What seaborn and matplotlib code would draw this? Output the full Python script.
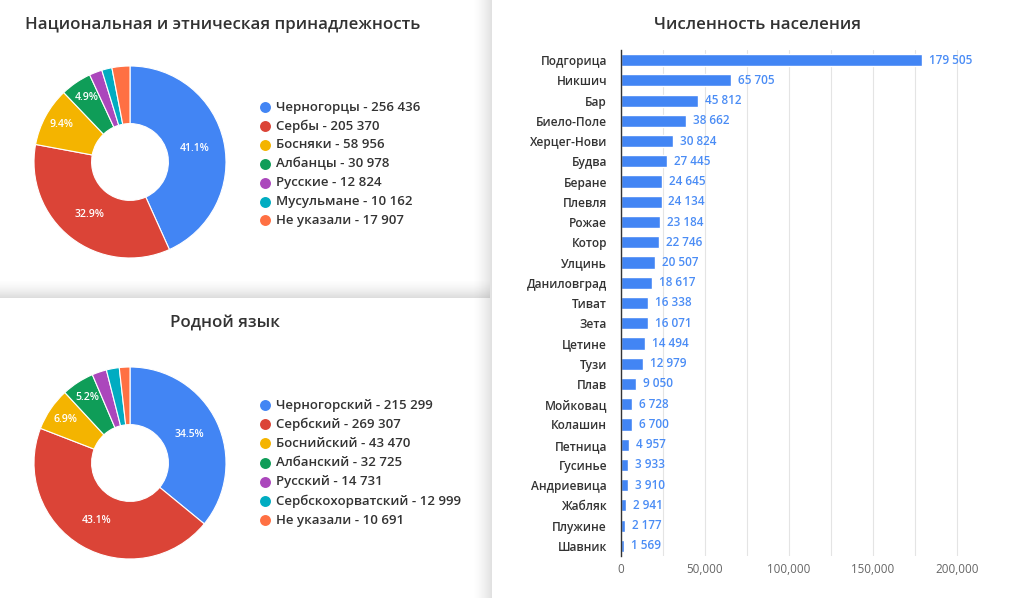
import numpy as np
import matplotlib
matplotlib.use("Agg")
import matplotlib.pyplot as plt
import seaborn as sns
from matplotlib.ticker import MultipleLocator, FuncFormatter

# ---------------- data ----------------
eth_names = ["Черногорцы", "Сербы", "Босняки", "Албанцы", "Русские", "Мусульмане", "Не указали"]
eth_values = [256436, 205370, 58956, 30978, 12824, 10162, 17907]
eth_pct_labels = ["41.1%", "32.9%", "9.4%", "4.9%", "", "", ""]

lang_names = ["Черногорский", "Сербский", "Боснийский", "Албанский", "Русский",
              "Сербскохорватский", "Не указали"]
lang_values = [215299, 269307, 43470, 32725, 14731, 12999, 10691]
lang_pct_labels = ["34.5%", "43.1%", "6.9%", "5.2%", "", "", ""]

cities = ["Подгорица", "Никшич", "Бар", "Биело-Поле", "Херцег-Нови", "Будва", "Беране",
          "Плевля", "Рожае", "Котор", "Улцинь", "Даниловград", "Тиват", "Зета", "Цетине",
          "Тузи", "Плав", "Мойковац", "Колашин", "Петница", "Гусинье", "Андриевица",
          "Жабляк", "Плужине", "Шавник"]
population = [179505, 65705, 45812, 38662, 30824, 27445, 24645, 24134, 23184, 22746, 20507,
              18617, 16338, 16071, 14494, 12979, 9050, 6728, 6700, 4957, 3933, 3910, 2941,
              2177, 1569]

title_eth = "Национальная и этническая принадлежность"
title_lang = "Родной язык"
title_pop = "Численность населения"

slice_colors = ["#4285F4", "#DB4437", "#F4B400", "#0F9D58", "#AB47BC", "#00ACC1", "#FF7043"]
bar_color = "#4285F4"
label_blue = "#4A8CF5"
text_color = "#333333"

# ---------------- style ----------------
sns.set_theme(style="white")
plt.rcParams["font.family"] = ["Open Sans", "DejaVu Sans"]

W, H = 1024, 598
fig = plt.figure(figsize=(W / 100, H / 100), dpi=100)
fig.patch.set_facecolor("white")


def px_axes(x0, y0, x1, y1, z=2):
    ax = fig.add_axes([x0 / W, 1 - y1 / H, (x1 - x0) / W, (y1 - y0) / H])
    ax.set_zorder(z)
    ax.patch.set_alpha(0)
    return ax


def fmt_space(v):
    return f"{v:,}".replace(",", " ")


# background / overlay axes in pixel coordinates
bg = fig.add_axes([0, 0, 1, 1])
bg.set_zorder(0)
bg.axis("off")

# card shadows
n = 60
ramp = np.linspace(0, 1, n) ** 1.6
vimg = np.zeros((1, n, 4))
vimg[..., :3] = 0.45
vimg[0, :, 3] = 0.22 * ramp
bg.imshow(vimg, extent=[472, 492, H, 0], aspect="auto", interpolation="bilinear")
himg = np.zeros((n, 1, 4))
himg[..., :3] = 0.45
himg[:, 0, 3] = 0.25 * ramp
bg.imshow(himg, extent=[0, 490, 298, 279], aspect="auto", interpolation="bilinear")
bg.set_xlim(0, W)
bg.set_ylim(H, 0)


def donut(cx, cy, values, pct_labels):
    R = 96
    ax = px_axes(cx - R - 4, cy - R - 4, cx + R + 4, cy + R + 4, z=2)
    wedges, _ = ax.pie(values, colors=slice_colors, startangle=90, counterclock=False,
                       radius=R, wedgeprops=dict(width=R * 0.6, edgecolor="white",
                                                 linewidth=0.8))
    ax.set_xlim(-R - 4, R + 4)
    ax.set_ylim(-R - 4, R + 4)
    ax.set_aspect("equal")
    total = sum(values)
    for w, lab, v in zip(wedges, pct_labels, values):
        if not lab:
            continue
        ang = np.deg2rad((w.theta1 + w.theta2) / 2)
        r = R * (0.69 if v / total > 0.15 else 0.81)
        ax.text(r * np.cos(ang), r * np.sin(ang), lab, ha="center", va="center",
                color="white", fontsize=7.6, fontweight="semibold")


def legend(names, values, y0, dy):
    for i, (nm, v, c) in enumerate(zip(names, values, slice_colors)):
        y = y0 + i * dy
        bg.scatter([265], [y], s=62, color=c, zorder=3, linewidths=0)
        bg.text(276, y, f"{nm} - {fmt_space(v)}", ha="left", va="center",
                fontsize=9.5, color=text_color, fontweight="semibold")


donut(130, 162, eth_values, eth_pct_labels)
legend(eth_names, eth_values, 107, 18.9)
donut(130, 463, lang_values, lang_pct_labels)
legend(lang_names, lang_values, 405, 19.2)

bg.text(25, 25, title_eth, ha="left", va="center", fontsize=12.2,
        color=text_color, fontweight="semibold")
bg.text(225, 323, title_lang, ha="center", va="center", fontsize=12.2,
        color=text_color, fontweight="semibold")
bg.text(757, 25, title_pop, ha="center", va="center", fontsize=12.2,
        color=text_color, fontweight="semibold")

# ---------------- bar chart ----------------
axb = px_axes(621, 50, 982, 556, z=2)
sns.barplot(x=population, y=cities, orient="h", color=bar_color, saturation=1,
            width=0.6, ax=axb)
axb.set_xlim(0, 215000)
axb.set_ylim(len(cities) - 0.5, -0.5)
axb.bar_label(axb.containers[0], labels=[fmt_space(v) for v in population], padding=5,
              color=label_blue, fontsize=8.5, fontweight="semibold")
axb.xaxis.set_major_locator(MultipleLocator(50000))
axb.xaxis.set_minor_locator(MultipleLocator(25000))
axb.xaxis.set_major_formatter(FuncFormatter(lambda v, p: f"{v:,.0f}"))
axb.grid(True, axis="x", which="both", color="#e4e4e4", linewidth=0.8)
axb.set_axisbelow(True)
axb.tick_params(axis="both", which="both", length=0)
axb.tick_params(axis="x", colors="#666666", labelsize=8.4, pad=5)
axb.tick_params(axis="y", colors=text_color, labelsize=8.6, pad=10)
for lab in axb.get_yticklabels():
    lab.set_fontweight("semibold")
for lab in axb.get_xticklabels():
    lab.set_fontweight("medium")
for s in ["top", "right", "bottom"]:
    axb.spines[s].set_visible(False)
axb.spines["left"].set_color("#333333")
axb.spines["left"].set_linewidth(1.0)
axb.set_xlabel("")
axb.set_ylabel("")

fig.savefig("out.png", dpi=100, facecolor="white")
